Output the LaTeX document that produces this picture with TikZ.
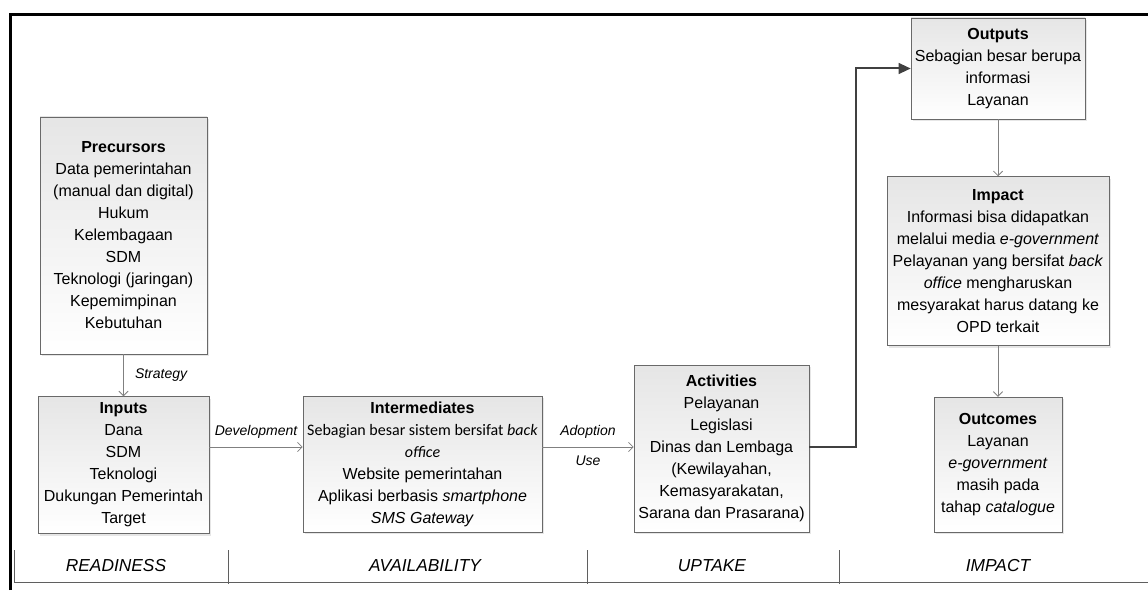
\documentclass[tikz,border=0pt]{standalone}
\usepackage{fontspec}
\setmainfont{Liberation Sans}
\newfontfamily\calfont{Carlito}
\usetikzlibrary{arrows.meta,positioning,shadows}
\definecolor{cline}{RGB}{128,128,128}
\definecolor{cbox}{RGB}{105,105,105}
\definecolor{cflow}{RGB}{64,64,64}
\definecolor{ctable}{RGB}{95,95,95}

\begin{document}
\begin{tikzpicture}[x=0.75pt,y=0.75pt,
  box/.style={draw=cbox,top color=gray!20,bottom color=white,align=center,inner sep=2pt,
    font=\fontsize{12}{16.5}\selectfont,
    drop shadow={shadow xshift=1.5pt,shadow yshift=-1.5pt,opacity=0.2}},
  link/.style={draw=cline,line width=0.6pt,-{Straight Barb[length=3.5pt,width=7pt]}},
  flow/.style={draw=cflow,line width=1.5pt,-{Triangle[length=9pt,width=8pt]}},
  elabel/.style={font=\fontsize{10.5}{12}\selectfont\itshape},
  phase/.style={font=\fontsize{13}{15}\selectfont\itshape}]
  \useasboundingbox (0,0) rectangle (1148,590);
  % frame
  \draw[line width=2.25pt] (10,0) -- (10,575) -- (1148,575);
  % phase table
  \draw[ctable,line width=0.6pt] (14,40) -- (14,8) -- (1148,8);
  \foreach \px in {228,587,839}
    \draw[ctable,line width=0.6pt] (\px,40) -- (\px,6);
  \node[phase] (ready) at (116,24) {READINESS};
  \node[phase] (avail) at (425,24) {AVAILABILITY};
  \node[phase] (uptake) at (712,24) {UPTAKE};
  \node[phase] (impact) at (998,24) {IMPACT};
  % boxes
  \node[box,minimum width=125.25pt,minimum height=177.75pt] (prec) at (123.5,354.5)
    {\textbf{Precursors}\\Data pemerintahan\\(manual dan digital)\\Hukum\\Kelembagaan\\SDM\\Teknologi (jaringan)\\Kepemimpinan\\Kebutuhan};
  \node[box,minimum width=128.25pt,minimum height=102.75pt,below=31.5pt of prec] (inp)
    {\textbf{Inputs}\\Dana\\SDM\\Teknologi\\Dukungan Pemerintah\\Target};
  \node[box,minimum width=179.25pt,minimum height=102pt] (inter) at (422.5,126)
    {\textbf{Intermediates}\\{\calfont Sebagian besar sistem bersifat \textit{back}}\\{\calfont\textit{office}}\\Website pemerintahan\\Aplikasi berbasis \textit{smartphone}\\\textit{SMS Gateway}};
  \node[box,minimum width=131.25pt,minimum height=125.25pt] (act) at (721.5,141.5)
    {\textbf{Activities}\\Pelayanan\\Legislasi\\Dinas dan Lembaga\\(Kewilayahan,\\Kemasyarakatan,\\Sarana dan Prasarana)};
  \node[box,minimum width=130.5pt,minimum height=75.75pt] (outp) at (998,521.5)
    {\textbf{Outputs}\\Sebagian besar berupa\\informasi\\Layanan};
  \node[box,minimum width=166.5pt,minimum height=126.75pt,below=42.75pt of outp] (imp)
    {\textbf{Impact}\\Informasi bisa didapatkan\\melalui media \textit{e-government}\\Pelayanan yang bersifat \textit{back}\\\textit{office} mengharuskan\\mesyarakat harus datang ke\\OPD terkait};
  \node[box,minimum width=96pt,minimum height=101.25pt,below=38.25pt of imp] (outc)
    {\textbf{Outcomes}\\Layanan\\\textit{e-government}\\masih pada\\tahap \textit{catalogue}};
  % connectors
  \coordinate (row) at (0,143);
  \draw[link] (prec.south) -- node[elabel,right=5pt]{Strategy} (prec.south |- inp.north);
  \draw[link] (inp.east |- row) -- node[elabel,above=3pt]{Development} (inter.west |- row);
  \draw[link] (inter.east |- row) -- node[elabel,above=3pt]{Adoption}
    node[elabel,below=3pt]{Use} (act.west |- row);
  \draw[flow] (act.east |- row) -- ++(47,0) |- (outp.west);
  \draw[link] (outp) -- (imp);
  \draw[link] (imp) -- (outc);
\end{tikzpicture}
\end{document}
